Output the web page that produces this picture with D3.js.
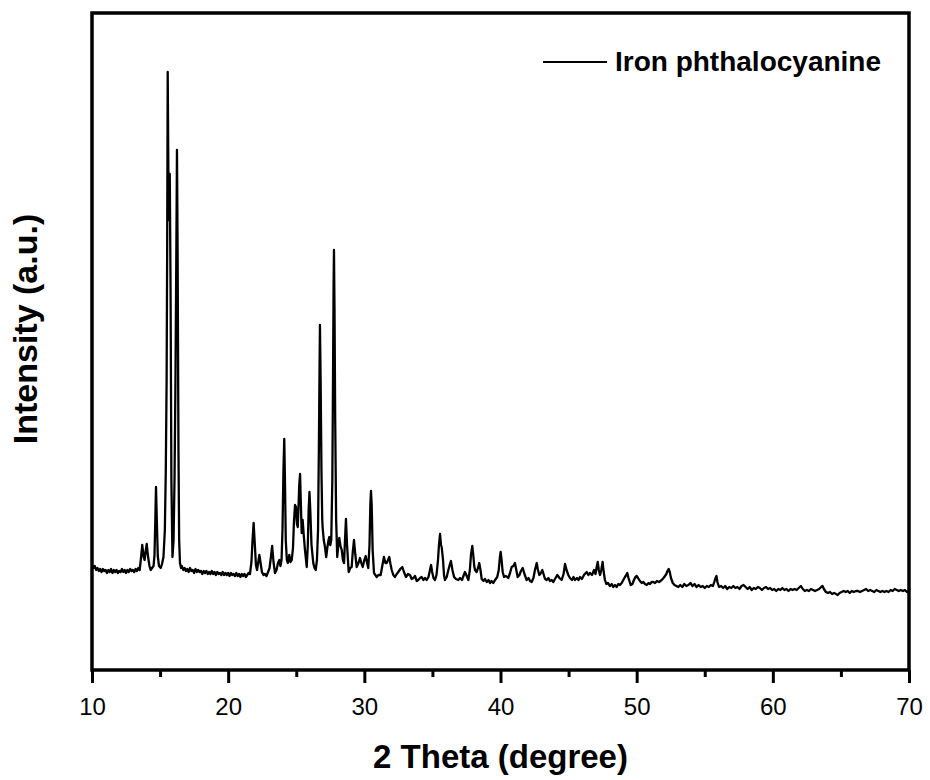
<!DOCTYPE html>
<html>
<head>
<meta charset="utf-8">
<script src="https://cdn.jsdelivr.net/npm/d3@7"></script>
<style>
  body { margin: 0; background: #fff; }
  text { font-family: Arial, "Liberation Sans", sans-serif; fill: #000; }
</style>
</head>
<body>
<div id="chart"></div>
<script>
// XRD pattern, [2theta, intensity (a.u.)]
const pattern = [
  [10.0,105],[10.1,102],[10.2,104],[10.3,100],[10.4,102],[10.5,99],[10.6,101],[10.7,98],[10.8,101],[10.9,99],
  [11.0,100],[11.1,97],[11.2,100],[11.3,98],[11.4,101],[11.5,97],[11.6,100],[11.7,98],[11.8,100],[11.9,97],
  [12.0,99],[12.1,98],[12.2,101],[12.3,98],[12.4,100],[12.5,97],[12.6,100],[12.7,98],[12.8,101],[12.9,99],
  [13.0,100],[13.1,98],[13.2,101],[13.3,99],[13.4,102],[13.5,100],
  [13.60,112],[13.69,125],[13.78,114],[13.86,110],[13.93,118],[14.02,126],[14.11,114],[14.22,104],[14.31,100],
  [14.41,102],[14.52,104],[14.59,115],[14.65,150],[14.70,183],[14.76,150],[14.83,114],[14.92,104],[15.05,102],
  [15.14,106],[15.25,113],[15.35,140],[15.42,200],[15.48,290],[15.52,420],[15.56,598],[15.63,450],[15.71,496],
  [15.77,380],[15.83,190],[15.91,113],[15.99,130],[16.06,190],[16.13,290],[16.19,410],[16.24,520],[16.29,410],
  [16.35,220],[16.40,130],[16.46,107],[16.54,102],
  [16.6,104],[16.7,100],[16.8,102],[16.9,99],[17.0,101],[17.1,98],[17.2,102],[17.3,99],[17.4,100],[17.5,97],
  [17.6,101],[17.7,98],[17.8,100],[17.9,98],[18.0,99],[18.1,96],[18.2,99],[18.3,97],[18.4,99],[18.5,96],
  [18.6,98],[18.7,96],[18.8,99],[18.9,96],[19.0,98],[19.1,95],[19.2,98],[19.3,96],[19.4,97],[19.5,95],
  [19.6,98],[19.7,95],[19.8,97],[19.9,95],[20.0,97],[20.1,94],[20.2,97],[20.3,95],[20.4,96],[20.5,94],
  [20.6,97],[20.7,94],[20.8,96],[20.9,93],[21.0,96],[21.1,94],[21.2,96],[21.3,93],[21.4,95],[21.5,97],[21.6,96],
  [21.71,108],[21.79,130],[21.87,147],[21.96,125],[22.04,105],[22.12,100],[22.21,108],[22.29,115],[22.37,108],
  [22.48,98],[22.59,95],[22.70,96],[22.81,94],[22.93,98],[23.04,102],[23.13,112],[23.23,124],[23.33,108],
  [23.44,97],[23.55,100],[23.66,107],[23.76,110],[23.84,104],[23.92,110],[23.99,140],[24.06,200],[24.12,231],
  [24.17,190],[24.23,130],[24.31,110],[24.38,107],[24.49,115],[24.58,108],[24.67,110],[24.76,122],[24.83,148],
  [24.91,165],[24.98,163],[25.05,146],[25.11,143],[25.17,165],[25.22,185],[25.28,196],[25.33,170],[25.40,137],
  [25.47,150],[25.55,135],[25.64,120],[25.77,103],[25.85,125],[25.91,160],[25.97,178],[26.03,160],[26.12,125],
  [26.25,107],[26.34,102],[26.43,100],[26.52,110],[26.60,140],[26.66,220],[26.71,300],[26.74,345],[26.79,290],
  [26.85,200],[26.91,150],[26.94,142],[27.02,130],[27.11,123],[27.20,113],[27.28,122],[27.37,130],[27.43,133],
  [27.50,125],[27.57,130],[27.65,190],[27.70,290],[27.74,380],[27.77,420],[27.81,360],[27.86,250],[27.93,150],
  [28.01,113],[28.09,125],[28.16,132],[28.25,124],[28.34,120],[28.43,110],[28.51,107],[28.58,130],[28.65,151],
  [28.73,125],[28.85,98],[28.96,102],[29.07,103],[29.15,118],[29.24,130],[29.34,115],[29.44,103],[29.57,107],
  [29.68,112],[29.78,107],[29.88,103],[30.00,110],[30.10,114],[30.20,107],[30.29,102],[30.38,125],[30.44,165],
  [30.49,179],[30.54,165],[30.61,120],[30.71,97],[30.81,95],[30.91,93],[31.04,95],[31.20,95],[31.33,105],
  [31.44,113],[31.55,107],[31.64,107],[31.74,110],[31.83,113],[31.92,106],[32.01,100],[32.13,95],[32.25,93],
  [32.38,96],[32.49,98],[32.64,101],[32.79,103],[32.91,98],[33.06,93],[33.21,96],[33.35,95],[33.48,91],
  [33.60,92],[33.72,94],[33.85,89],[33.96,90],[34.09,92],[34.21,93],[34.33,90],[34.45,92],[34.58,90],
  [34.71,93],[34.82,100],[34.90,105],[34.98,98],[35.08,92],[35.19,90],[35.30,95],[35.41,110],[35.48,125],
  [35.56,136],[35.63,125],[35.68,123],[35.78,110],[35.85,95],[35.92,90],[36.05,93],[36.17,100],[36.27,105],
  [36.36,109],[36.47,100],[36.59,93],[36.73,91],[36.90,90],[37.03,92],[37.17,90],[37.28,94],[37.39,98],
  [37.52,94],[37.64,90],[37.75,100],[37.83,115],[37.93,124],[38.00,115],[38.07,104],[38.13,100],[38.24,98],
  [38.35,102],[38.44,107],[38.53,100],[38.62,91],[38.75,89],[38.86,91],[38.99,88],[39.12,90],[39.23,87],
  [39.34,89],[39.47,87],[39.60,90],[39.76,93],[39.87,100],[39.95,112],[40.01,118],[40.08,110],[40.16,98],
  [40.26,93],[40.40,94],[40.57,92],[40.70,97],[40.82,103],[40.94,104],[41.06,107],[41.16,100],[41.26,93],
  [41.39,95],[41.50,99],[41.63,102],[41.76,96],[41.92,90],[42.06,92],[42.17,89],[42.29,88],[42.42,92],
  [42.53,100],[42.66,107],[42.75,100],[42.85,95],[42.97,97],[43.07,100],[43.16,96],[43.27,91],[43.39,90],
  [43.52,92],[43.63,89],[43.76,90],[43.88,88],[44.00,91],[44.17,95],[44.33,92],[44.49,90],[44.63,96],
  [44.74,106],[44.85,100],[44.98,95],[45.10,92],[45.25,90],[45.36,93],[45.47,90],[45.62,92],[45.73,90],
  [45.84,93],[45.98,91],[46.13,95],[46.33,98],[46.45,95],[46.57,97],[46.72,95],[46.87,100],[46.98,96],
  [47.05,102],[47.14,108],[47.22,100],[47.31,95],[47.40,100],[47.50,108],[47.58,98],[47.67,90],[47.77,86],
  [47.89,87],[48.04,84],[48.17,86],[48.28,83],[48.41,85],[48.53,83],[48.65,86],[48.77,85],[48.90,87],
  [49.02,90],[49.14,93],[49.24,95],[49.31,97],[49.40,92],[49.56,85],[49.69,86],[49.80,90],[49.91,93],
  [50.00,94],[50.10,92],[50.24,89],[50.37,87],[50.49,88],[50.61,86],[50.74,85],[50.87,87],[50.98,86],
  [51.10,88],[51.22,88],[51.35,87],[51.49,89],[51.64,88],[51.84,90],[51.97,92],[52.08,94],[52.18,96],
  [52.26,99],[52.35,101],[52.43,98],[52.52,92],[52.65,87],[52.78,85],[52.92,84],[53.06,83],
  [53.20,85],[53.35,83],[53.50,86],[53.65,84],[53.80,85],[53.95,87],[54.10,84],[54.25,86],[54.40,83],
  [54.55,85],[54.70,83],[54.85,84],[55.00,82],[55.15,84],[55.30,83],[55.45,85],[55.60,84],[55.70,88],
  [55.79,92],[55.86,94],[55.93,88],[56.05,83],[56.20,84],[56.35,82],[56.50,84],[56.65,81],[56.80,83],
  [56.95,82],[57.10,84],[57.25,82],[57.40,83],[57.55,81],[57.70,84],[57.85,85],[58.00,83],[58.15,81],
  [58.30,83],[58.45,80],[58.60,82],[58.75,81],[58.90,83],[59.05,82],[59.20,80],[59.35,82],[59.50,83],
  [59.65,81],[59.80,82],[59.95,80],[60.10,81],[60.25,79],[60.40,81],[60.55,80],[60.70,82],[60.85,80],
  [61.00,81],[61.15,79],[61.30,81],[61.45,80],[61.60,81],[61.75,80],[61.90,82],[62.06,84],[62.20,81],
  [62.35,79],[62.50,80],[62.65,79],[62.80,81],[62.95,80],[63.10,79],[63.25,80],[63.40,81],[63.55,83],
  [63.65,84],[63.75,81],[63.90,78],[64.05,77],[64.20,78],[64.35,76],[64.50,77],[64.65,76],[64.76,75],
  [64.90,77],[65.05,78],[65.20,79],[65.35,78],[65.50,79],[65.65,77],[65.80,79],[65.95,78],[66.10,79],
  [66.25,79],[66.40,78],[66.55,79],[66.70,80],[66.85,81],[67.00,79],[67.15,80],[67.30,79],[67.45,78],
  [67.60,80],[67.75,79],[67.90,78],[68.05,79],[68.20,78],[68.35,79],[68.50,78],[68.65,80],[68.80,79],
  [68.95,81],[69.10,80],[69.25,79],[69.40,80],[69.55,79],[69.70,80],[69.85,78],[70.00,79]
];

const xMajor = [10, 20, 30, 40, 50, 60, 70];
const xMinor = [15, 25, 35, 45, 55, 65];
const seriesName = "Iron phthalocyanine";

let dim = { width: 930, height: 780 };
let plot = { left: 92, right: 909, top: 13, bottom: 670 };

let svg = d3.select('#chart').append('svg')
    .attr('width', dim.width)
    .attr('height', dim.height);

let scaleX = d3.scaleLinear()
    .domain([10, 70])
    .range([plot.left, plot.right]);

let scaleY = d3.scaleLinear()
    .domain([0, 657])
    .range([plot.bottom, plot.top]);

// minor ticks
svg.append('g')
    .attr('transform', `translate(0,${plot.bottom})`)
    .call(d3.axisBottom(scaleX).tickValues(xMinor).tickSize(7).tickFormat(''))
    .call(g => g.select('.domain').remove())
    .call(g => g.selectAll('line').attr('stroke', '#000').attr('stroke-width', 3));

// major ticks + labels
svg.append('g')
    .attr('transform', `translate(0,${plot.bottom})`)
    .call(d3.axisBottom(scaleX).tickValues(xMajor).tickSize(13).tickFormat(d3.format('d')))
    .call(g => g.select('.domain').remove())
    .call(g => g.selectAll('line').attr('stroke', '#000').attr('stroke-width', 3))
    .call(g => g.selectAll('text')
        .attr('y', 45).attr('dy', null)
        .attr('font-size', 24)
        .attr('font-family', 'Arial, "Liberation Sans", sans-serif')
        .attr('fill', '#000'));

// the pattern
let line = d3.line()
    .x(d => scaleX(d[0]))
    .y(d => scaleY(d[1]));

svg.append('path')
    .datum(pattern)
    .attr('fill', 'none')
    .attr('stroke', '#000')
    .attr('stroke-width', 2.3)
    .attr('stroke-linejoin', 'round')
    .attr('d', line);

// frame
svg.append('rect')
    .attr('x', plot.left)
    .attr('y', plot.top)
    .attr('width', plot.right - plot.left)
    .attr('height', plot.bottom - plot.top)
    .attr('fill', 'none')
    .attr('stroke', '#000')
    .attr('stroke-width', 3.5);

// legend
svg.append('line')
    .attr('x1', 543).attr('x2', 607)
    .attr('y1', 62).attr('y2', 62)
    .attr('stroke', '#000')
    .attr('stroke-width', 2);

svg.append('text')
    .attr('x', 615).attr('y', 71)
    .attr('font-size', 28)
    .attr('font-weight', 'bold')
    .text(seriesName);

// axis titles
svg.append('text')
    .attr('x', (plot.left + plot.right) / 2)
    .attr('y', 768)
    .attr('text-anchor', 'middle')
    .attr('font-size', 33)
    .attr('font-weight', 'bold')
    .text('2 Theta (degree)');

svg.append('text')
    .attr('transform', 'translate(37,329) rotate(-90)')
    .attr('text-anchor', 'middle')
    .attr('font-size', 34)
    .attr('font-weight', 'bold')
    .text('Intensity (a.u.)');
</script>
</body>
</html>
